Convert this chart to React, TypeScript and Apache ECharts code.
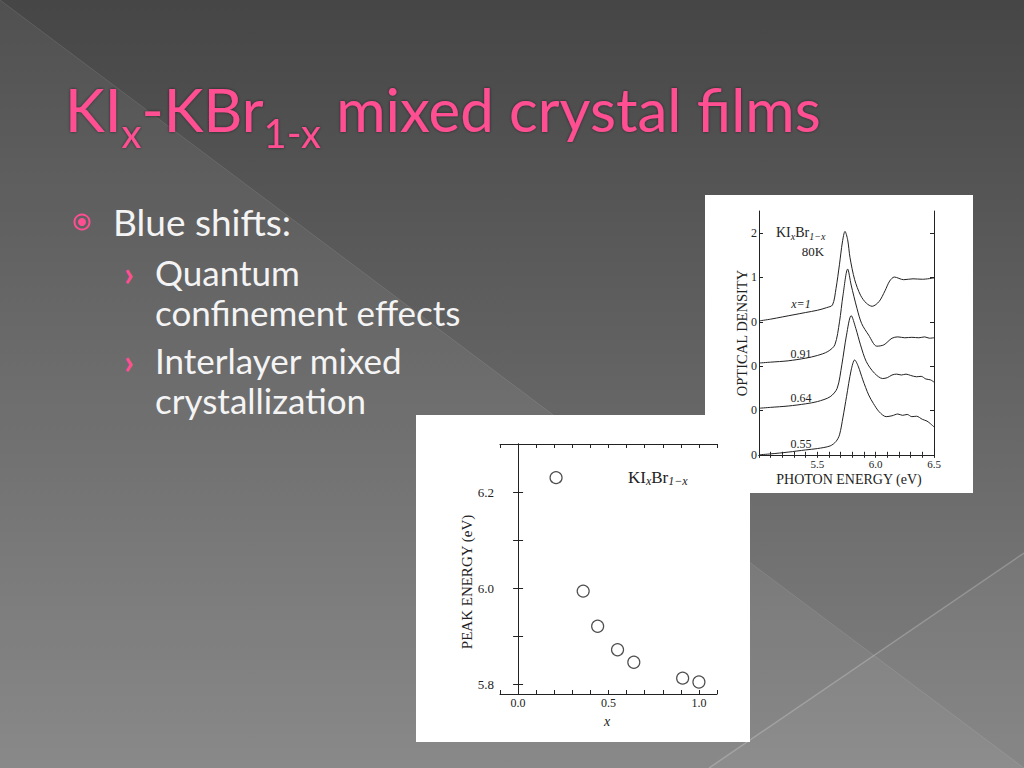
import React, { useEffect, useRef } from "react";
import * as echarts from "echarts";

// ---------- Right chart: absorption spectra of KI_xBr_{1-x} films at 80 K ----------
const spectraNames = ["x=1", "0.91", "0.64", "0.55"];
const spectraOffsets = [3, 2, 1, 0];

const energyX100 = [5.0, 5.1, 5.2, 5.3, 5.4, 5.5, 5.58, 5.63, 5.66, 5.69, 5.715, 5.737, 5.76, 5.78, 5.82, 5.87, 5.92, 5.97, 6.03, 6.08, 6.12, 6.16, 6.24, 6.32, 6.4, 6.5];
const odX100 = [0.02, 0.06, 0.11, 0.16, 0.21, 0.26, 0.32, 0.38, 0.75, 1.3, 1.8, 2.04, 1.85, 1.45, 0.95, 0.6, 0.42, 0.35, 0.46, 0.7, 0.92, 1.01, 0.95, 0.97, 0.96, 0.99];

const energyX91 = [5.0, 5.1, 5.25, 5.4, 5.5, 5.59, 5.65, 5.69, 5.72, 5.76, 5.79, 5.84, 5.88, 5.94, 6.01, 6.07, 6.14, 6.19, 6.25, 6.31, 6.37, 6.42, 6.46, 6.5];
const odX91 = [0.07, 0.09, 0.12, 0.18, 0.24, 0.33, 0.48, 1.0, 1.6, 2.19, 1.83, 1.3, 0.96, 0.7, 0.45, 0.48, 0.63, 0.66, 0.64, 0.65, 0.64, 0.66, 0.63, 0.64];

const energyX64 = [5.0, 5.1, 5.25, 5.4, 5.5, 5.61, 5.67, 5.71, 5.75, 5.79, 5.83, 5.87, 5.92, 5.99, 6.06, 6.1, 6.14, 6.18, 6.22, 6.26, 6.3, 6.35, 6.39, 6.43, 6.47, 6.5];
const odX64 = [0.05, 0.07, 0.1, 0.15, 0.2, 0.31, 0.5, 1.03, 1.7, 2.14, 1.85, 1.48, 1.1, 0.84, 0.72, 0.74, 0.8, 0.82, 0.8, 0.82, 0.79, 0.76, 0.77, 0.71, 0.69, 0.64];

const energyX55 = [5.0, 5.1, 5.25, 5.4, 5.5, 5.61, 5.66, 5.69, 5.72, 5.75, 5.79, 5.82, 5.85, 5.89, 5.94, 5.98, 6.03, 6.09, 6.14, 6.19, 6.23, 6.27, 6.31, 6.35, 6.4, 6.44, 6.47, 6.5];
const odX55 = [0.0, 0.02, 0.06, 0.11, 0.14, 0.2, 0.3, 0.45, 0.85, 1.31, 1.91, 2.14, 2.0, 1.69, 1.35, 1.16, 0.97, 0.86, 0.88, 0.92, 0.89, 0.91, 0.86, 0.87, 0.8, 0.76, 0.7, 0.63];

const spectraEnergies = [energyX100, energyX91, energyX64, energyX55];
const spectraOD = [odX100, odX91, odX64, odX55];

const spectraYTicks = [0, 1, 2, 3, 4, 5];
const spectraYTickLabels = ["0", "0", "0", "0", "1", "2"];
const spectraXLabels = [5.5, 6.0, 6.5];

// ---------- Left chart: peak energy vs composition ----------
const compositionX = [0.21, 0.36, 0.44, 0.55, 0.64, 0.91, 1.0];
const peakEnergy = [6.23, 5.994, 5.921, 5.872, 5.846, 5.813, 5.805];

const peakYTicks = [5.8, 5.9, 6.0, 6.1, 6.2];
const peakYLabels = [5.8, 6.0, 6.2];
const peakXLabels = [0, 0.5, 1.0];

// ---------- Slide text ----------
const bulletMain = "Blue shifts:";
const subBullets = [
  ["Quantum", "confinement effects"],
  ["Interlayer mixed", "crystallization"],
];

const SANS = "Lato";
const SERIF = "'Liberation Serif', 'DejaVu Serif', serif";
const INK = "#222";

type Run = { t: string; sub?: boolean; italic?: boolean; gap?: boolean };

let measureCtx: CanvasRenderingContext2D | null = null;
function measure(text: string, size: number, family: string, italic = false) {
  if (!measureCtx) measureCtx = document.createElement("canvas").getContext("2d");
  measureCtx!.font = `${italic ? "italic " : ""}${size}px ${family}`;
  return measureCtx!.measureText(text).width;
}

function runs(
  parts: Run[],
  x0: number,
  yMain: number,
  ySub: number,
  mainSize: number,
  subSize: number,
  family: string,
  fill: string,
  extra: any = {}
) {
  const els: any[] = [];
  let x = x0;
  for (const p of parts) {
    const size = p.sub ? subSize : mainSize;
    if (p.gap) x += measure(" ", mainSize, family);
    els.push({
      type: "text",
      x,
      y: p.sub ? ySub : yMain,
      z: 20,
      style: {
        text: p.t,
        fill,
        fontSize: size,
        fontFamily: family,
        fontStyle: p.italic ? "italic" : "normal",
        align: "left",
        verticalAlign: "middle",
        ...extra,
      },
    });
    x += measure(p.t, size, family, p.italic);
  }
  return els;
}

function near(v: number, list: number[]) {
  return list.findIndex((t) => Math.abs(v - t) < 1e-6);
}

export default function App() {
  const ref = useRef<HTMLDivElement>(null);

  useEffect(() => {
    const chart = echarts.init(ref.current!, null, { renderer: "svg" });

    const PINK = "#ff4f92";
    const WHITE = "#f4f4f4";

    const graphics: any[] = [
      // background
      {
        type: "rect",
        z: -20,
        shape: { x: 0, y: 0, width: 1024, height: 768 },
        style: {
          fill: {
            type: "linear", x: 0, y: 0, x2: 0, y2: 1,
            colorStops: [
              { offset: 0, color: "#464646" },
              { offset: 1, color: "#828282" },
            ],
          },
        },
      },
      {
        type: "polygon", z: -19,
        shape: { points: [[0, 0], [0, 768], [1024, 768]] },
        style: { fill: "rgba(255,255,255,0.06)" },
      },
      {
        type: "polygon", z: -19,
        shape: { points: [[709, 768], [1024, 553], [1024, 768]] },
        style: { fill: "rgba(255,255,255,0.04)" },
      },
      { type: "line", z: -18, shape: { x1: 0, y1: 0, x2: 1024, y2: 768 }, style: { stroke: "rgba(255,255,255,0.10)", lineWidth: 1 } },
      { type: "line", z: -18, shape: { x1: 709, y1: 768, x2: 1024, y2: 553 }, style: { stroke: "rgba(255,255,255,0.22)", lineWidth: 1.5 } },
      // image panels
      { type: "rect", z: -10, shape: { x: 705, y: 195, width: 268, height: 298 }, style: { fill: "#ffffff" } },
      { type: "rect", z: -9, shape: { x: 416, y: 415, width: 334, height: 327 }, style: { fill: "#ffffff" } },
      // bullet marker
      { type: "circle", z: 20, shape: { cx: 82, cy: 222, r: 7.5 }, style: { fill: "none", stroke: PINK, lineWidth: 2 } },
      { type: "circle", z: 20, shape: { cx: 82, cy: 222, r: 4 }, style: { fill: PINK } },
      {
        type: "text", x: 113, y: 221, z: 20,
        style: { text: bulletMain, fill: WHITE, fontSize: 37, fontFamily: SANS, verticalAlign: "middle" },
      },
    ];

    // title
    graphics.push(
      ...runs(
        [{ t: "KI" }, { t: "x", sub: true }, { t: "-KBr" }, { t: "1-x", sub: true }, { t: "mixed crystal films", gap: true }],
        65, 109, 133, 60, 40, SANS, PINK,
        { textShadowColor: "rgba(0,0,0,0.55)", textShadowBlur: 3 }
      )
    );

    // sub bullets
    const subY = [[272, 312], [360, 400]];
    subBullets.forEach((lines, i) => {
      graphics.push({
        type: "text", x: 124, y: subY[i][0], z: 20,
        style: { text: "›", fill: PINK, fontSize: 34, fontWeight: "bold", fontFamily: SANS, verticalAlign: "middle" },
      });
      lines.forEach((ln, j) => {
        graphics.push({
          type: "text", x: 155, y: subY[i][j], z: 20,
          style: { text: ln, fill: WHITE, fontSize: 35, fontFamily: SANS, verticalAlign: "middle" },
        });
      });
    });

    // right chart annotations
    graphics.push(
      ...runs(
        [{ t: "KI" }, { t: "x", sub: true, italic: true }, { t: "Br" }, { t: "1−x", sub: true, italic: true }],
        776, 232, 236, 14, 10, SERIF, INK
      )
    );
    graphics.push({ type: "text", x: 813, y: 251, z: 20, style: { text: "80K", fill: INK, fontSize: 13, fontFamily: SERIF, align: "center", verticalAlign: "middle" } });
    const curveLabelY = [304, 354, 398, 444];
    spectraNames.forEach((n, i) => {
      graphics.push({
        type: "text", x: 801, y: curveLabelY[i], z: 20,
        style: { text: n, fill: INK, fontSize: 12, fontFamily: SERIF, fontStyle: i === 0 ? "italic" : "normal", align: "center", verticalAlign: "middle" },
      });
    });
    graphics.push({
      type: "text", x: 742, y: 333, z: 20, rotation: Math.PI / 2,
      style: { text: "OPTICAL DENSITY", fill: INK, fontSize: 14.5, fontFamily: SERIF, align: "center", verticalAlign: "middle" },
    });
    graphics.push({
      type: "text", x: 849, y: 479, z: 20,
      style: { text: "PHOTON ENERGY (eV)", fill: INK, fontSize: 14, fontFamily: SERIF, align: "center", verticalAlign: "middle" },
    });

    // left chart annotations
    graphics.push(
      ...runs(
        [{ t: "KI" }, { t: "x", sub: true, italic: true }, { t: "Br" }, { t: "1−x", sub: true, italic: true }],
        628, 477, 481, 17, 12, SERIF, INK
      )
    );
    graphics.push({
      type: "text", x: 467, y: 582, z: 20, rotation: Math.PI / 2,
      style: { text: "PEAK ENERGY (eV)", fill: INK, fontSize: 15, fontFamily: SERIF, align: "center", verticalAlign: "middle" },
    });
    graphics.push({
      type: "text", x: 607, y: 721, z: 20,
      style: { text: "x", fill: INK, fontSize: 14, fontFamily: SERIF, fontStyle: "italic", align: "center", verticalAlign: "middle" },
    });

    const line = { lineStyle: { color: INK, width: 1 } };
    const tick = (len: number) => ({ show: true, inside: true, length: len, lineStyle: { color: INK, width: 1 } });
    const lbl = { color: INK, fontFamily: SERIF, fontSize: 12 };

    const option: any = {
      animation: false,
      backgroundColor: "transparent",
      graphic: { elements: graphics },
      grid: [
        { left: 759, top: 211, width: 175, height: 246, show: false },
        { left: 500, top: 444, width: 217, height: 250, show: false },
      ],
      xAxis: [
        {
          gridIndex: 0, type: "value", min: 5.0, max: 6.5, interval: 0.1, position: "bottom",
          axisLine: line, axisTick: tick(3), splitLine: { show: false },
          axisLabel: {
            ...lbl, fontSize: 11, margin: 1,
            formatter: (v: number) => (near(v, spectraXLabels) >= 0 ? v.toFixed(1) : ""),
          },
        },
        {
          gridIndex: 0, type: "value", min: 5.0, max: 6.5, interval: 0.1, position: "top",
          axisLine: line, axisTick: tick(3), splitLine: { show: false }, axisLabel: { show: false },
        },
        {
          gridIndex: 1, type: "value", min: -0.1, max: 1.1, interval: 0.1, position: "bottom",
          axisLine: line, axisTick: tick(4), splitLine: { show: false },
          axisLabel: {
            ...lbl, fontSize: 12, margin: 3,
            formatter: (v: number) => (near(v, peakXLabels) >= 0 ? v.toFixed(1) : ""),
          },
        },
        {
          gridIndex: 1, type: "value", min: -0.1, max: 1.1, interval: 0.1, position: "top",
          axisLine: line, axisTick: tick(4), splitLine: { show: false }, axisLabel: { show: false },
        },
      ],
      yAxis: [
        {
          gridIndex: 0, type: "value", min: -0.05, max: 5.5, position: "left",
          axisLine: { show: true, ...line },
          axisTick: { ...tick(4), customValues: spectraYTicks },
          splitLine: { show: false },
          axisLabel: {
            ...lbl, margin: 2, customValues: spectraYTicks,
            formatter: (v: number) => {
              const i = near(v, spectraYTicks);
              return i >= 0 ? spectraYTickLabels[i] : "";
            },
          },
        },
        {
          gridIndex: 0, type: "value", min: -0.05, max: 5.5, position: "right",
          axisLine: { show: true, ...line },
          axisTick: { ...tick(4), customValues: spectraYTicks },
          splitLine: { show: false }, axisLabel: { show: false },
        },
        {
          gridIndex: 1, type: "value", min: 5.78, max: 6.3, position: "left",
          axisLine: { show: true, ...line },
          axisTick: { ...tick(5), customValues: peakYTicks },
          splitLine: { show: false },
          axisLabel: {
            ...lbl, fontSize: 13, margin: 6, customValues: peakYLabels,
            formatter: (v: number) => v.toFixed(1),
          },
        },
        {
          gridIndex: 1, type: "value", min: 5.78, max: 6.3, position: "right",
          axisLine: { show: true, ...line },
          axisTick: { ...tick(5), customValues: peakYTicks },
          splitLine: { show: false }, axisLabel: { show: false },
        },
      ],
      series: [
        ...spectraNames.map((name, i) => ({
          name,
          type: "line",
          xAxisIndex: 0,
          yAxisIndex: 0,
          showSymbol: false,
          smooth: 0.3,
          lineStyle: { color: INK, width: 1 },
          data: spectraEnergies[i].map((e, k) => [e, spectraOD[i][k] + spectraOffsets[i]]),
        })),
        {
          name: "peak",
          type: "scatter",
          xAxisIndex: 2,
          yAxisIndex: 2,
          symbol: "circle",
          symbolSize: 12,
          itemStyle: { color: "#ffffff", borderColor: INK, borderWidth: 1.2 },
          data: compositionX.map((x, k) => [x, peakEnergy[k]]),
        },
      ],
    };

    chart.setOption(option);
    return () => chart.dispose();
  }, []);

  return (
    <div
      ref={ref}
      style={{ position: "absolute", left: 0, top: 0, width: 1024, height: 768, overflow: "hidden" }}
    />
  );
}
